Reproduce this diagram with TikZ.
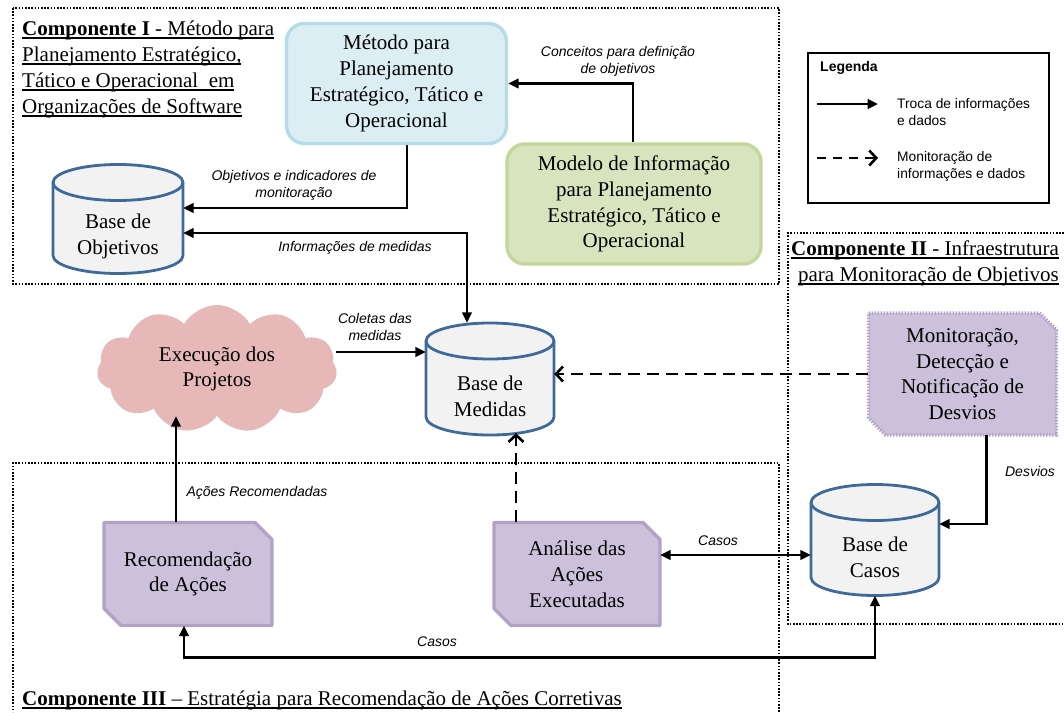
\documentclass[tikz,border=0pt]{standalone}
\usepackage{fontspec}
\setmainfont{Liberation Serif}
\setsansfont{Liberation Sans}
\usetikzlibrary{arrows.meta,calc,shapes.symbols}

\definecolor{metfill}{HTML}{DBEEF4}
\definecolor{metline}{HTML}{B4DBE7}
\definecolor{modfill}{HTML}{D7E4BD}
\definecolor{modline}{HTML}{C3D69B}
\definecolor{purfill}{HTML}{CCC1DA}
\definecolor{purline}{HTML}{B3A2C7}
\definecolor{cloudfill}{HTML}{E6B9B8}
\definecolor{dbfill}{HTML}{F2F2F2}
\definecolor{dbline}{HTML}{3E6A9A}

% underlined heading text with a heavier rule
\newcommand\ulhead[1]{\setbox0\hbox{#1}\rlap{\rule[-3.6pt]{\wd0}{1.3pt}}\box0}

\tikzset{
  body/.style={font=\fontsize{21}{25.8}\selectfont, align=center, inner sep=0pt},
  head/.style={font=\fontsize{21}{25.8}\selectfont, inner sep=0pt},
  lbl/.style={font=\fontsize{14}{17}\selectfont\sffamily\itshape, align=center, inner sep=0pt},
  legtext/.style={font=\fontsize{13.8}{17}\selectfont\sffamily, align=left, inner sep=0pt},
  flow/.style={line width=2.6pt, -{Triangle[length=10.5pt,width=9.5pt]}},
  flowboth/.style={line width=2.6pt, {Triangle[length=10.5pt,width=9.5pt]}-{Triangle[length=10.5pt,width=9.5pt]}},
  watch/.style={line width=2.6pt, dash pattern=on 12pt off 7pt,
    -{Straight Barb[length=7pt,width=15pt,line width=2.6pt]}},
  zone/.style={line width=1.9pt, dash pattern=on 1.6pt off 1.6pt},
  roundbox/.style={body, rounded corners=18pt, line width=3.4pt},
  dbshape/.style={fill=dbfill, draw=dbline, line width=2.8pt},
  purpbox/.style={fill=purfill, draw=purline, line width=3.2pt, line join=round},
  purpdot/.style={fill=purfill, draw=purline, line width=3.2pt, dash pattern=on 1.5pt off 1.5pt},
}

% database cylinder: name, cx, cy, width, height, text
\newcommand\dbnode[6]{%
  \pgfmathsetmacro\cyL{#2-#4/2}\pgfmathsetmacro\cyR{#2+#4/2}%
  \pgfmathsetmacro\cyT{#3-#5/2}\pgfmathsetmacro\cyB{#3+#5/2}%
  \pgfmathsetmacro\cyTe{\cyT+18}\pgfmathsetmacro\cyBe{\cyB-18}%
  \pgfmathsetmacro\cyTb{\cyT+36}%
  \pgfmathsetmacro\cyKx{0.5523*#4/2}\pgfmathsetmacro\cyKy{0.5523*18}%
  \pgfmathsetmacro\cyMl{#2-\cyKx}\pgfmathsetmacro\cyMr{#2+\cyKx}%
  \filldraw[dbshape] (\cyL,\cyTe) -- (\cyL,\cyBe)
    .. controls (\cyL,\cyBe+\cyKy) and (\cyMl,\cyB) .. (#2,\cyB)
    .. controls (\cyMr,\cyB) and (\cyR,\cyBe+\cyKy) .. (\cyR,\cyBe)
    -- (\cyR,\cyTe)
    .. controls (\cyR,\cyTe-\cyKy) and (\cyMr,\cyT) .. (#2,\cyT)
    .. controls (\cyMl,\cyT) and (\cyL,\cyTe-\cyKy) .. cycle;
  \draw[dbshape, fill=none] (\cyL,\cyTe)
    .. controls (\cyL,\cyTe+\cyKy) and (\cyMl,\cyTb) .. (#2,\cyTb)
    .. controls (\cyMr,\cyTb) and (\cyR,\cyTe+\cyKy) .. (\cyR,\cyTe);
  \node[inner sep=0pt, minimum width=#4pt, minimum height=#5pt] (#1) at (#2,#3) {};
  \node[body] (#1-t) at (#2,#3+17.5) {#6};
}

% box with two snipped corners: name, cx, cy, width, height, style, text
\newcommand\snipbox[7]{%
  \pgfmathsetmacro\snL{#2-#4/2}\pgfmathsetmacro\snR{#2+#4/2}%
  \pgfmathsetmacro\snT{#3-#5/2}\pgfmathsetmacro\snB{#3+#5/2}%
  \pgfmathsetmacro\snRc{\snR-17}\pgfmathsetmacro\snTc{\snT+17}%
  \pgfmathsetmacro\snLc{\snL+17}\pgfmathsetmacro\snBc{\snB-17}%
  \filldraw[#6] (\snL,\snT) -- (\snRc,\snT) -- (\snR,\snTc) -- (\snR,\snB)
    -- (\snLc,\snB) -- (\snL,\snBc) -- cycle;
  \node[body, minimum width=#4pt, minimum height=#5pt] (#1) at (#2,#3) {#7};
}

\begin{document}
\begin{tikzpicture}[x=1pt,y=-1pt]
\useasboundingbox (0,0) rectangle (1064,712);
\fill[white] (0,0) rectangle (1064,712);

% component frames
\draw[zone] (13,8) rectangle (779,284);
\draw[zone] (1064,233) -- (788,233) -- (788,624) -- (1064,624);
\draw[zone] (779,712) -- (779,463) -- (13,463) -- (13,712);

% component headings
\node[head, anchor=base west] (c1a) at (22,35) {\ulhead{\textbf{Componente I} - Método para}};
\node[head, anchor=base west] (c1b) at (22,61) {\ulhead{Planejamento Estratégico,}};
\node[head, anchor=base west] (c1c) at (22,87) {\ulhead{Tático e Operacional\ \ em}};
\node[head, anchor=base west] (c1d) at (22,113) {\ulhead{Organizações de Software}};
\node[head, anchor=base east] (c2a) at (1059,255) {\ulhead{\textbf{Componente II} - Infraestrutura}};
\node[head, anchor=base east] (c2b) at (1059,281) {\ulhead{para Monitoração de Objetivos}};
\node[head, anchor=base west] (c3a) at (22,705) {\ulhead{\textbf{Componente III} – Estratégia para Recomendação de Ações Corretivas}};

% legend
\node[draw, line width=1.2pt, minimum width=241pt, minimum height=150pt, inner sep=0pt] (leg) at (928.5,128) {};
\node[font=\fontsize{14}{16}\selectfont\sffamily\bfseries, anchor=west, inner sep=0pt] (legtitle) at (820,68) {Legenda};
\coordinate (legA1) at (817,104);
\coordinate (legA2) at (878,104);
\coordinate (legB1) at (817,158);
\coordinate (legB2) at (878,158);
\draw[flow] (legA1) -- (legA2);
\draw[watch, dash pattern=on 9pt off 7pt] (legB1) -- (legB2);
\node[legtext, anchor=west] (legAt) at (897,112) {Troca de informações\\e dados};
\node[legtext, anchor=west] (legBt) at (897,166) {Monitoração de\\informações e dados};

% process boxes
\node[roundbox, fill=metfill, draw=metline, minimum width=220pt, minimum height=120pt] (met) at (396.5,83.5)
  {Método para\\Planejamento\\Estratégico, Tático e\\Operacional};
\node[roundbox, fill=modfill, draw=modline, minimum width=254pt, minimum height=120pt] (mod) at (634,204)
  {Modelo de Informação\\para Planejamento\\Estratégico, Tático e\\Operacional};

\node[cloud, cloud puffs=11, cloud puff arc=120, aspect=2, fill=cloudfill, body,
      minimum width=240pt, minimum height=128pt] (proj) at (217,369) {Execução dos\\Projetos};

\dbnode{bobj}{118}{219}{130}{109}{Base de\\Objetivos}
\dbnode{bmed}{490}{379}{128}{112}{Base de\\Medidas}
\dbnode{bcas}{875}{540}{128}{111}{Base de\\Casos}

\snipbox{rec}{188}{574}{168}{103}{purpbox}{Recomendação\\de Ações}
\snipbox{ana}{577}{574}{166}{103}{purpbox}{Análise das\\Ações\\Executadas}
\snipbox{mon}{962.5}{374}{188}{122}{purpdot}{Monitoração,\\Detecção e\\Notificação de\\Desvios}

% connectors
\draw[flow] ($(mod.north)+(-1,0)$) |- (met.east);
\draw[flow] ($(met.south)+(10.5,0)$) |- ($(bobj.east)+(0,-11)$);
\draw[flowboth] ($(bobj.east)+(0,14)$) -| ($(bmed.north)+(-23,0)$);
\coordinate (cM) at ($(bmed.west)+(0,-27)$);
\draw[flow] (proj.east |- cM) -- (cM);
\draw[watch] (mon.west) -- (mon.west -| bmed.east);
\draw[watch] ($(ana.north)+(-61,0)$) coordinate (aN) -- ($(aN |- bmed.south)+(0,-2)$);
\draw[flow] ($(rec.north)+(-12,0)$) coordinate (rA) -- (rA |- proj.south);
\draw[flowboth] ($(ana.east)+(0,-19)$) coordinate (cA) -- (cA -| bcas.west);
\draw[flow] ($(mon.south)+(24,0)$) |- ($(bcas.east)+(0,-16)$);
\draw[flowboth] (bcas.south) |- ($(rec.south)+(-4,32)$) -- ($(rec.south)+(-4,0)$);

% connector labels
\node[lbl] (l-conc) at (618,61) {Conceitos para definição\\de objetivos};
\node[lbl] (l-obj) at (294,185) {Objetivos e indicadores de\\monitoração};
\node[lbl] (l-inf) at (355,248) {Informações de medidas};
\node[lbl] (l-col) at (375,326.5) {Coletas das\\medidas};
\node[lbl] (l-acr) at (257,493) {Ações Recomendadas};
\node[lbl] (l-cas1) at (718,541) {Casos};
\node[lbl] (l-desv) at (1030,471) {Desvios};
\node[lbl] (l-cas2) at (437,642) {Casos};
\end{tikzpicture}
\end{document}
